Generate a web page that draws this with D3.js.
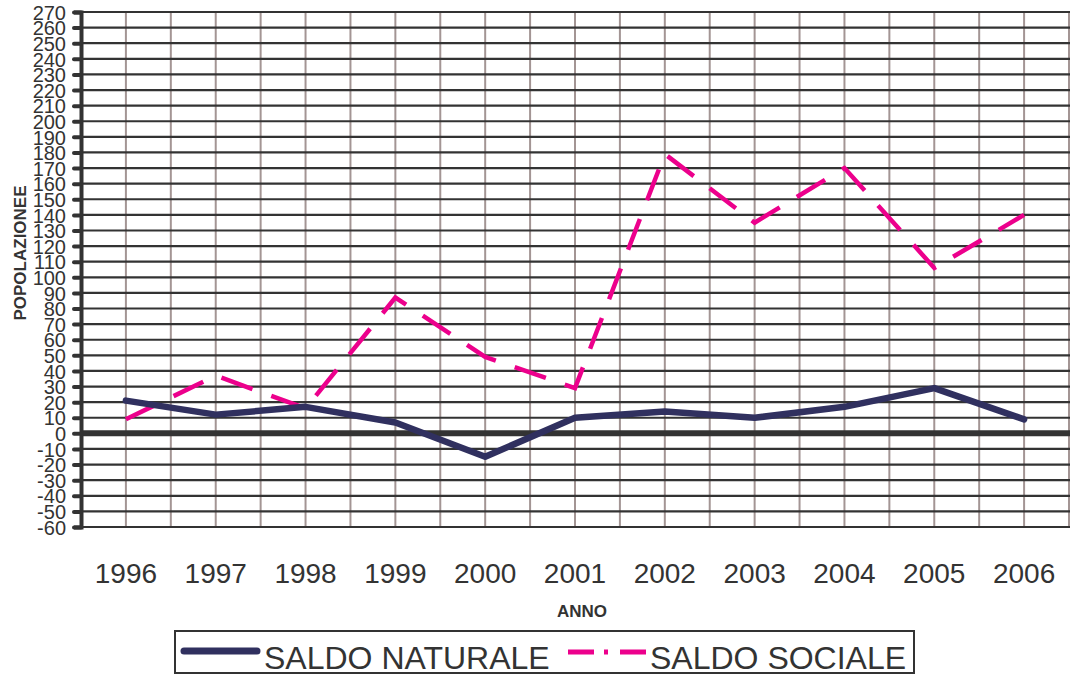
<!DOCTYPE html>
<html>
<head>
<meta charset="utf-8">
<script src="https://cdn.jsdelivr.net/npm/d3@7"></script>
<style>
  body { margin: 0; background: #fff; }
  svg { display: block; font-family: "Liberation Sans", Arial, sans-serif; }
</style>
</head>
<body>
<svg id="chart" width="1070" height="675"></svg>
<script>
// dati
var anni = [1996, 1997, 1998, 1999, 2000, 2001, 2002, 2003, 2004, 2005, 2006];
var saldoNaturale = [21, 12, 17, 7, -15, 10, 14, 10, 17, 29, 9];
var saldoSociale = [9, 37, 16, 87, 49, 29, 179, 135, 170, 106, 140];
var yTicks = d3.range(-60, 271, 10);
var nomiSerie = ["SALDO NATURALE", "SALDO SOCIALE"];

var svg = d3.select("#chart");
var area = {left: 81, right: 1069, top: 12, bottom: 527};

var x = d3.scaleLinear().domain([1995.5, 2006.5]).range([area.left, area.right]);
var y = d3.scaleLinear().domain([-60, 270]).range([area.bottom, area.top]);

var g = svg.append("g");

// griglia verticale (ogni mezzo anno)
g.selectAll(".vgrid").data(d3.range(1996, 2006.6, 0.5))
  .enter().append("line")
    .attr("class", "vgrid")
    .attr("x1", function(d){ return x(d); })
    .attr("x2", function(d){ return x(d); })
    .attr("y1", area.top).attr("y2", area.bottom)
    .attr("stroke", "#a39594")
    .attr("stroke-width", 2);

// griglia orizzontale
g.selectAll(".hgrid").data(yTicks)
  .enter().append("line")
    .attr("class", "hgrid")
    .attr("x1", area.left).attr("x2", 1070)
    .attr("y1", function(d){ return y(d); })
    .attr("y2", function(d){ return y(d); })
    .attr("stroke", "#333")
    .attr("stroke-width", function(d){ return d === 0 ? 6 : 2.2; });

// asse y
var yAxis = d3.axisLeft(y).tickValues(yTicks).tickSize(7).tickPadding(8)
  .tickFormat(function(d){ return d < 0 ? "-" + Math.abs(d) : d; });
var ga = g.append("g").attr("transform", "translate(" + area.left + ",0)").call(yAxis);
ga.select(".domain").attr("stroke", "#333").attr("stroke-width", 4);
ga.selectAll(".tick line").attr("stroke", "#333").attr("stroke-width", 4).attr("stroke-linecap", "round");
ga.selectAll(".tick text")
  .attr("fill", "#333")
  .style("font-size", "20px")
  .style("font-family", "Liberation Sans, Arial, sans-serif")
  .attr("dy", "0.36em");

// etichette anni
g.selectAll(".anno").data(anni)
  .enter().append("text")
    .attr("x", function(d){ return x(d); })
    .attr("y", 583)
    .attr("text-anchor", "middle")
    .attr("fill", "#333")
    .style("font-size", "28px")
    .text(function(d){ return d; });

// titoli assi
svg.append("text")
  .attr("transform", "translate(26,253) rotate(-90)")
  .attr("text-anchor", "middle")
  .attr("fill", "#333")
  .style("font-size", "17px").style("font-weight", "bold")
  .text("POPOLAZIONEE");
svg.append("text")
  .attr("x", 582).attr("y", 617)
  .attr("text-anchor", "middle")
  .attr("fill", "#333")
  .style("font-size", "17px").style("font-weight", "bold")
  .text("ANNO");

var line = d3.line()
  .x(function(d){ return x(d[0]); })
  .y(function(d){ return y(d[1]); });

g.append("path")
  .datum(d3.zip(anni, saldoSociale))
  .attr("d", line)
  .attr("fill", "none")
  .attr("stroke", "#ec008c")
  .attr("stroke-width", 4.5)
  .attr("stroke-dasharray", "33,20");

g.append("path")
  .datum(d3.zip(anni, saldoNaturale))
  .attr("d", line)
  .attr("fill", "none")
  .attr("stroke", "#30305f")
  .attr("stroke-width", 6.5)
  .attr("stroke-linejoin", "round")
  .attr("stroke-linecap", "round");

// legenda
var leg = svg.append("g");
leg.append("rect")
  .attr("x", 175).attr("y", 631).attr("width", 739).attr("height", 42)
  .attr("fill", "#fff").attr("stroke", "#333").attr("stroke-width", 2);
leg.append("line")
  .attr("x1", 184).attr("x2", 257).attr("y1", 651).attr("y2", 651)
  .attr("stroke", "#30305f").attr("stroke-width", 7).attr("stroke-linecap", "round");
leg.append("text")
  .attr("x", 264).attr("y", 669)
  .attr("fill", "#333").style("font-size", "32px")
  .text(nomiSerie[0]);
leg.append("line")
  .attr("x1", 568).attr("x2", 646).attr("y1", 652).attr("y2", 652)
  .attr("stroke", "#ec008c").attr("stroke-width", 5)
  .attr("stroke-dasharray", "26,10,4,12,26");
leg.append("text")
  .attr("x", 650).attr("y", 669)
  .attr("fill", "#333").style("font-size", "32px")
  .text(nomiSerie[1]);
</script>
</body>
</html>
